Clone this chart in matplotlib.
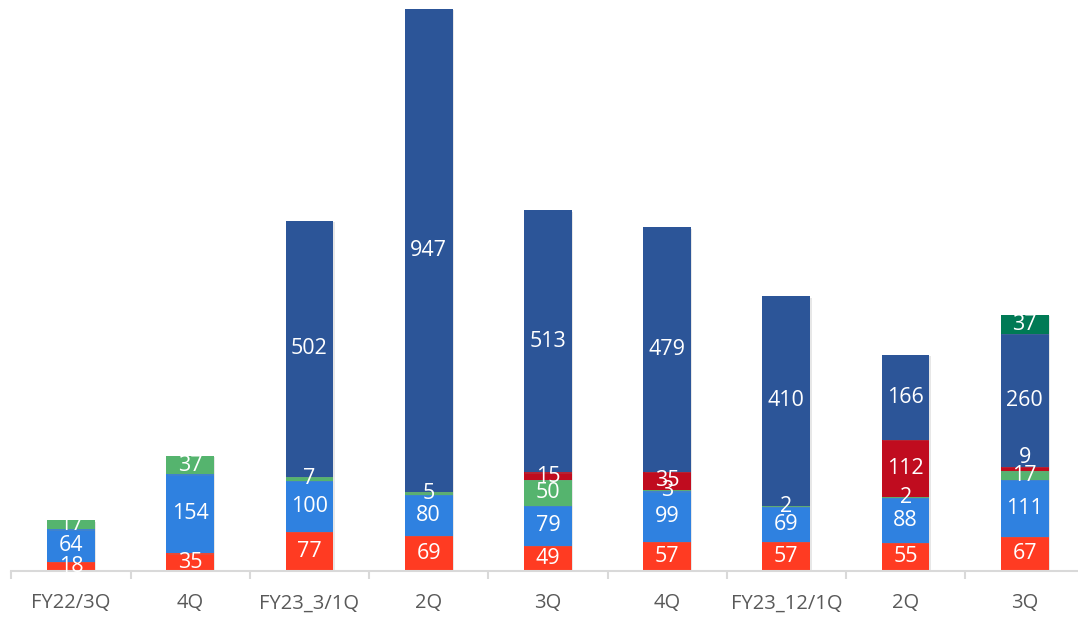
import numpy as np
import matplotlib.pyplot as plt
import matplotlib.patheffects as pe
from matplotlib.ticker import FixedLocator

plt.rcParams['font.family'] = ['Open Sans', 'DejaVu Sans']

categories = ["FY22/3Q", "4Q", "FY23_3/1Q", "2Q", "3Q", "4Q", "FY23_12/1Q", "2Q", "3Q"]

# stacked series, bottom to top (None = segment absent)
s_red = [18, 35, 77, 69, 49, 57, 57, 55, 67]
s_blue = [64, 154, 100, 80, 79, 99, 69, 88, 111]
s_green = [17, 37, 7, 5, 50, 3, 2, 2, 17]
s_darkred = [None, None, None, None, 15, 35, None, 112, 9]
s_navy = [None, None, 502, 947, 513, 479, 410, 166, 260]
s_teal = [None, None, None, None, None, None, None, None, 37]

series = [s_red, s_blue, s_green, s_darkred, s_navy, s_teal]
colors = ["#FF3B22", "#2F81E0", "#55B46E", "#C00C1F", "#2C5598", "#007A55"]

fig = plt.figure(figsize=(10.78, 6.17), dpi=100)
ax = fig.add_axes([11.4 / 1078, 46 / 617, 1073 / 1078, 568 / 617])

x = np.arange(len(categories))
bottom = np.zeros(len(categories))
shadow = [pe.SimplePatchShadow(offset=(1, -1), shadow_rgbFace="#888888", alpha=0.2), pe.Normal()]
for k, (vals, col) in enumerate(zip(series, colors)):
    v = np.array([0 if a is None else a for a in vals], dtype=float)
    bars = ax.bar(x, v, 0.4, bottom=bottom, color=col, linewidth=0, zorder=2)
    for b in bars:
        b.set_path_effects(shadow)
    for i, a in enumerate(vals):
        if a is None:
            continue
        # the thin dark-red "9" label sits a little higher in the original
        dy = 8 if (k == 3 and a < 12) else 0
        ax.annotate(str(a), (x[i], bottom[i] + a / 2), xytext=(0, dy),
                    textcoords="offset points", ha="center", va="center",
                    color="white", fontsize=15.5, zorder=3)
    bottom += v

ax.set_xlim(-0.5, len(categories) - 0.5)
ax.set_ylim(0, 1112)
ax.set_xticks(x)
ax.set_xticklabels(categories, fontsize=14.5, color="#595959")
ax.xaxis.set_minor_locator(FixedLocator(np.arange(-0.5, len(categories), 1)))
ax.tick_params(axis="x", which="major", length=0, pad=16)
ax.tick_params(axis="x", which="minor", length=6, width=1.5, color="#D9D9D9")
ax.set_yticks([])
for s in ["top", "right", "left"]:
    ax.spines[s].set_visible(False)
ax.spines["bottom"].set_color("#D9D9D9")
ax.spines["bottom"].set_linewidth(1.5)

fig.savefig("out.png", dpi=100)
